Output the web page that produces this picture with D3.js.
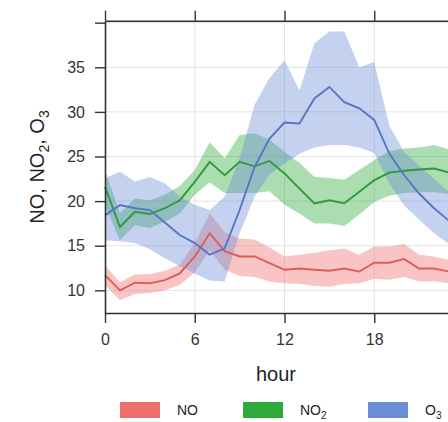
<!DOCTYPE html>
<html>
<head>
<meta charset="utf-8">
<script src="https://cdn.jsdelivr.net/npm/d3@7"></script>
<style>
  body { margin: 0; background: #fff; }
  text { font-family: "Liberation Sans", Arial, sans-serif; }
</style>
</head>
<body>
<div id="chart"></div>
<script>
// hours of the day
var hours = d3.range(0, 25);

// NO: mean with lower / upper band
var noMean = [11.7, 10.0, 10.85, 10.8, 11.15, 11.9, 13.8, 16.4, 14.4, 13.8, 13.8, 13.05, 12.3, 12.45, 12.3, 12.2, 12.45, 12.1, 13.1, 13.1, 13.5, 12.45, 12.45, 12.1, 11.8];
var noLow  = [10.6, 8.9, 9.6, 9.7, 10.0, 10.6, 12.0, 14.5, 12.3, 11.6, 11.5, 11.0, 10.8, 10.7, 10.5, 10.4, 10.7, 10.8, 11.3, 11.2, 11.5, 11.0, 11.0, 10.8, 10.6];
var noHigh = [12.8, 10.9, 11.8, 11.8, 12.2, 12.9, 15.3, 18.6, 16.5, 15.8, 15.7, 14.8, 13.8, 14.0, 14.2, 14.5, 14.7, 14.0, 14.9, 14.9, 15.2, 14.0, 13.8, 13.4, 13.0];

// NO2
var no2Mean = [21.6, 17.1, 18.8, 18.55, 19.2, 20.1, 22.15, 24.4, 22.9, 24.4, 23.9, 24.5, 23.1, 21.4, 19.75, 20.1, 19.75, 21.05, 22.35, 23.2, 23.4, 23.55, 23.65, 23.2, 22.5];
var no2Low  = [19.5, 15.6, 17.3, 17.0, 17.7, 18.6, 20.7, 22.1, 20.9, 20.9, 20.9, 21.1, 19.6, 18.6, 17.5, 17.5, 17.2, 18.5, 19.9, 20.6, 20.9, 21.0, 21.0, 20.8, 20.2];
var no2High = [23.5, 18.6, 20.3, 20.1, 20.7, 21.7, 23.5, 26.6, 24.8, 27.4, 27.6, 26.9, 25.5, 24.3, 22.7, 22.6, 22.4, 23.5, 24.6, 25.6, 25.9, 26.0, 26.3, 25.8, 25.0];

// O3
var o3Mean = [18.4, 19.55, 19.2, 19.0, 17.6, 16.2, 15.3, 14.0, 14.7, 19.0, 23.85, 27.0, 28.8, 28.7, 31.5, 32.8, 31.1, 30.4, 29.1, 25.35, 22.9, 20.85, 19.2, 17.8, 16.5];
var o3Low  = [15.6, 15.5, 15.3, 14.6, 13.6, 12.7, 11.9, 11.1, 11.0, 16.4, 20.5, 23.0, 24.2, 25.3, 26.0, 26.3, 26.3, 26.0, 25.4, 22.0, 19.5, 17.9, 16.4, 15.2, 14.0];
var o3High = [22.6, 23.3, 22.2, 22.7, 22.0, 20.5, 19.6, 19.0, 20.5, 24.8, 30.8, 33.8, 35.8, 32.4, 37.7, 39.0, 39.0, 35.0, 35.6, 28.5, 25.5, 24.0, 22.5, 21.0, 19.5];

var xTicks = [0, 6, 12, 18, 24];
var yTicks = [10, 15, 20, 25, 30, 35, 40];

var series = [
  { name: "NO",  sub: "",  mean: noMean,  lo: noLow,  hi: noHigh,  fill: "#ee6f6c", line: "#e05a58" },
  { name: "NO",  sub: "2", mean: no2Mean, lo: no2Low, hi: no2High, fill: "#2eaa3b", line: "#2f9a3a" },
  { name: "O",   sub: "3", mean: o3Mean,  lo: o3Low,  hi: o3High,  fill: "#6b8ed6", line: "#5676c4" }
];

var width = 448, height = 422;
var plotL = 105, plotR = 464, plotT = 20.7, plotB = 313;

var svg = d3.select("#chart").append("svg")
  .attr("width", width)
  .attr("height", height);

var x = d3.scaleLinear().domain([0, 24]).range([plotL, plotR]);
var y = d3.scaleLinear().domain([7.46, 40.22]).range([plotB, plotT]);

// grid
svg.append("g").selectAll("line")
  .data(yTicks).enter().append("line")
  .attr("x1", plotL).attr("x2", plotR)
  .attr("y1", function(d) { return y(d); })
  .attr("y2", function(d) { return y(d); })
  .attr("stroke", "#e3e3e3").attr("stroke-width", 1);
svg.append("g").selectAll("line")
  .data(xTicks.slice(1, 4)).enter().append("line")
  .attr("y1", plotT).attr("y2", plotB)
  .attr("x1", function(d) { return x(d); })
  .attr("x2", function(d) { return x(d); })
  .attr("stroke", "#e3e3e3").attr("stroke-width", 1);

var area = function(s) {
  return d3.area()
    .x(function(d, i) { return x(hours[i]); })
    .y0(function(d, i) { return y(s.lo[i]); })
    .y1(function(d, i) { return y(s.hi[i]); })(hours);
};
var line = function(s) {
  return d3.line()
    .x(function(d, i) { return x(hours[i]); })
    .y(function(d, i) { return y(s.mean[i]); })(hours);
};

// bands
svg.append("g").selectAll("path")
  .data(series).enter().append("path")
  .attr("d", area)
  .attr("fill", function(s) { return s.fill; })
  .attr("fill-opacity", 0.4)
  .attr("stroke", "none");

// mean lines
svg.append("g").selectAll("path")
  .data(series).enter().append("path")
  .attr("d", line)
  .attr("fill", "none")
  .attr("stroke", function(s) { return s.line; })
  .attr("stroke-width", 1.9);

// axes
var axisStyle = function(g) {
  g.selectAll(".domain").attr("stroke", "#333").attr("stroke-width", 1.6);
  g.selectAll(".tick line").attr("stroke", "#333").attr("stroke-width", 1.4);
  g.selectAll("text").attr("font-size", 16).attr("fill", "#333")
    .attr("font-family", "'Liberation Sans', Arial, sans-serif");
};

svg.append("g")
  .attr("transform", "translate(0," + plotB + ")")
  .call(d3.axisBottom(x).tickValues(xTicks).tickSize(10).tickPadding(11).tickSizeOuter(0))
  .call(axisStyle);

svg.append("g")
  .attr("transform", "translate(0," + plotT + ")")
  .call(d3.axisTop(x).tickValues(xTicks).tickSize(10).tickSizeOuter(0).tickFormat(""))
  .call(axisStyle);

svg.append("g")
  .attr("transform", "translate(" + plotL + ",0)")
  .call(d3.axisLeft(y).tickValues(yTicks).tickSize(10).tickPadding(10).tickSizeOuter(0)
    .tickFormat(function(d) { return d === 40 ? "" : d; }))
  .call(axisStyle);

// axis titles
svg.append("text")
  .attr("x", 276).attr("y", 381)
  .attr("text-anchor", "middle")
  .attr("font-size", 20).attr("fill", "#222")
  .text("hour");

var yTitle = svg.append("text")
  .attr("transform", "translate(44,167) rotate(-90)")
  .attr("text-anchor", "middle")
  .attr("font-size", 20).attr("fill", "#222");
yTitle.append("tspan").text("NO, NO");
yTitle.append("tspan").attr("dy", 5).attr("font-size", 14).text("2");
yTitle.append("tspan").attr("dy", -5).text(", O");
yTitle.append("tspan").attr("dy", 5).attr("font-size", 14).text("3");

// legend
var lx = [120, 243, 368];
var legend = svg.append("g").selectAll("g")
  .data(series).enter().append("g")
  .attr("transform", function(s, i) { return "translate(" + lx[i] + ",402)"; });
legend.append("rect")
  .attr("width", 40).attr("height", 16)
  .attr("fill", function(s) { return s.fill; });
var lt = legend.append("text")
  .attr("x", 57).attr("y", 13)
  .attr("font-size", 14).attr("fill", "#222");
lt.append("tspan").text(function(s) { return s.name; });
lt.append("tspan").attr("dy", 4).attr("font-size", 10).text(function(s) { return s.sub; });
</script>
</body>
</html>
